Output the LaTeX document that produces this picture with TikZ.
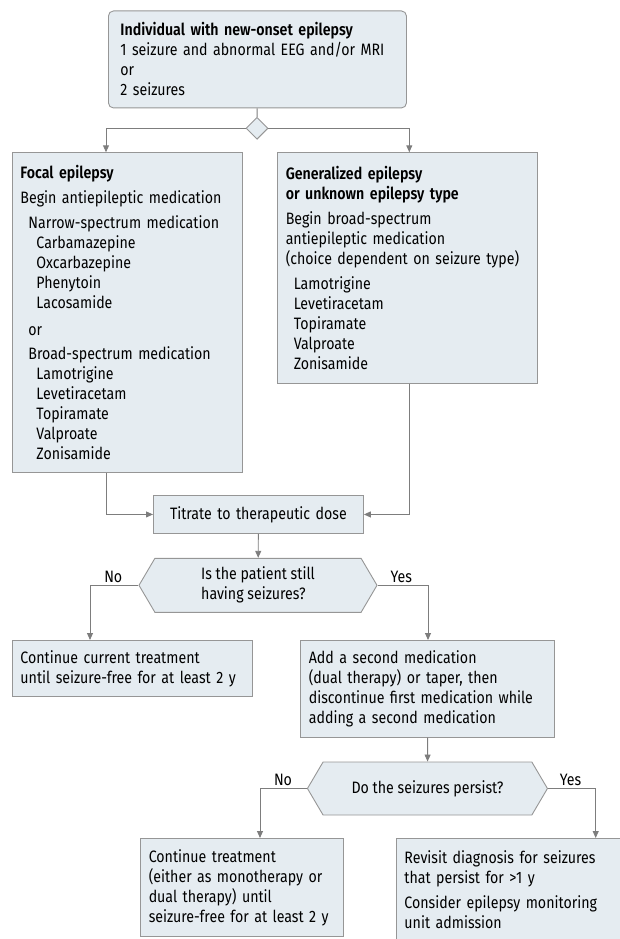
\documentclass[tikz,border=0pt]{standalone}
\usepackage{fontspec}
\IfFontExistsTF{Fira Sans SemiBold}{\setmainfont{Fira Sans}[FakeStretch=0.86,BoldFont={Fira Sans SemiBold}]}{\setmainfont{Fira Sans}[FakeStretch=0.86]}
\usepackage{xcolor}
\usetikzlibrary{arrows.meta,positioning,shapes.geometric,shapes.symbols}
\definecolor{boxfill}{RGB}{229,236,241}
\definecolor{boxline}{RGB}{150,150,150}
\definecolor{arrline}{RGB}{125,125,125}
\hyphenpenalty=10000
\exhyphenpenalty=10000

\begin{document}
\begin{tikzpicture}[
  x=1pt,y=1pt,
  font=\fontsize{16.5}{20}\selectfont,
  box/.style={draw=boxline,fill=boxfill,line width=0.9pt,anchor=north west,align=left,inner xsep=8pt,inner ysep=0pt},
  query/.style={draw=boxline,fill=boxfill,line width=0.9pt,signal,signal to=west and east,signal pointer angle=119,align=left,inner sep=0pt},
  arr/.style={draw=arrline,line width=0.9pt,-{Triangle[length=7pt,width=6pt]}},
  lbl/.style={above,inner sep=2pt},
]
\useasboundingbox (0,0) rectangle (620,-939);
\node[box,rounded corners=5pt,inner xsep=12pt,text width=274pt,minimum height=97pt] (start) at (108,-10.5)
  {\textbf{Individual with new-onset epilepsy}\\1 seizure and abnormal EEG and/or MRI\\or\\2 seizures};
\node[diamond,draw=boxline,fill=boxfill,line width=0.9pt,minimum width=22pt,minimum height=22pt,inner sep=0pt] (split) at (257,-128.3) {};
\node[box,text width=214pt,minimum height=320pt] (focal) at (12,-152.3)
  {\textbf{Focal epilepsy}\\[5pt]
   Begin antiepileptic medication\\[5pt]
   \hspace*{8pt}Narrow-spectrum medication\\
   \hspace*{16pt}Carbamazepine\\
   \hspace*{16pt}Oxcarbazepine\\
   \hspace*{16pt}Phenytoin\\
   \hspace*{16pt}Lacosamide\\[7pt]
   \hspace*{8pt}or\\[4pt]
   \hspace*{8pt}Broad-spectrum medication\\
   \hspace*{16pt}Lamotrigine\\
   \hspace*{16pt}Levetiracetam\\
   \hspace*{16pt}Topiramate\\
   \hspace*{16pt}Valproate\\
   \hspace*{16pt}Zonisamide};
\node[box,text width=243.5pt,minimum height=230.7pt] (general) at (277.3,-152.3)
  {\textbf{Generalized epilepsy}\\
   \textbf{or unknown epilepsy type}\\[5pt]
   Begin broad-spectrum\\
   antiepileptic medication\\
   (choice dependent on seizure type)\\[5pt]
   \hspace*{8pt}Lamotrigine\\
   \hspace*{8pt}Levetiracetam\\
   \hspace*{8pt}Topiramate\\
   \hspace*{8pt}Valproate\\
   \hspace*{8pt}Zonisamide};
\node[box,align=center,inner xsep=0pt,text width=210pt,minimum height=38pt] (titrate) at (153,-495) {Titrate to therapeutic dose};
\node[query,minimum width=238pt,minimum height=54pt] (still) at (258,-585.3) {Is the patient still\\having seizures?};
\node[box,text width=224pt,minimum height=56pt] (cont) at (12,-640)
  {Continue current treatment\\until seizure-free for at least 2 y};
\node[box,text width=238pt,minimum height=96.7pt] (second) at (300.4,-640)
  {Add a second medication\\(dual therapy) or taper, then\\discontinue first medication while\\adding a second medication};
\node[query,minimum width=240pt,minimum height=53pt] (persist) at (427.45,-788.5) {Do the seizures persist?};
\node[box,text width=186.7pt,minimum height=98pt] (mono) at (140.3,-838)
  {Continue treatment\\(either as monotherapy or\\dual therapy) until\\seizure-free for at least 2 y};
\node[box,text width=208pt,minimum height=103pt] (revisit) at (396,-838)
  {Revisit diagnosis for seizures\\that persist for >1 y\\[5pt]Consider epilepsy monitoring\\unit admission};
\draw[draw=arrline,line width=0.9pt] (start) -- (split);
\draw[arr] (split.west) -| ([xshift=94pt]focal.north west);
\draw[arr] (split.east) -| ([xshift=132pt]general.north west);
\draw[arr] ([xshift=94pt]focal.south west) |- (titrate.west);
\draw[arr] ([xshift=132pt]general.south west) |- (titrate.east);
\draw[arr] (titrate) -- (still);
\draw[arr] (still.west) -| ([xshift=78pt]cont.north west) node[lbl,pos=0.26] {No};
\draw[arr] (still.east) -| ([xshift=127.6pt]second.north west) node[lbl,pos=0.235] {Yes};
\draw[arr] (second) -- (persist);
\draw[arr] (persist.west) -| ([xshift=119.7pt]mono.north west) node[lbl,pos=0.255] {No};
\draw[arr] (persist.east) -| ([xshift=199.7pt]revisit.north west) node[lbl,pos=0.236] {Yes};
\end{tikzpicture}
\end{document}
